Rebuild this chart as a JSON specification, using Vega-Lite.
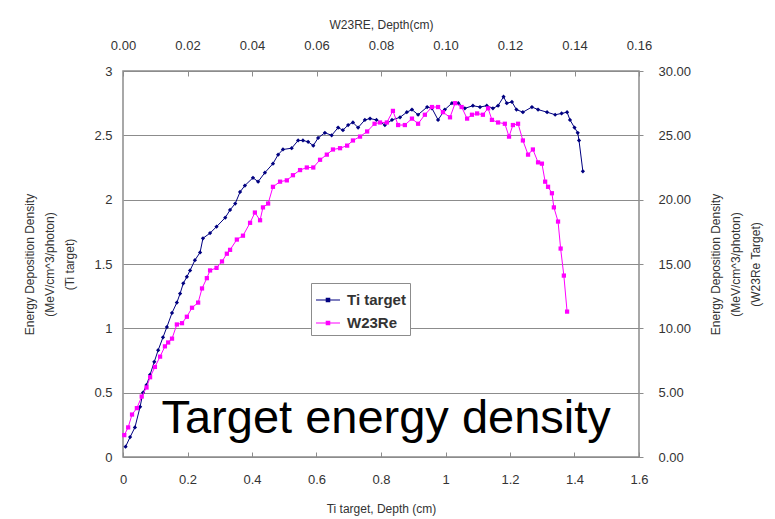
{
  "$schema": "https://vega.github.io/schema/vega-lite/v6.json",
  "width": 516,
  "height": 386,
  "autosize": "none",
  "padding": {"left": 123, "top": 71, "right": 136, "bottom": 62},
  "background": "white",
  "config": {
    "font": "Liberation Sans",
    "view": {"stroke": "#8c8c8c", "strokeWidth": 1.5},
    "axis": {
      "labelFont": "Liberation Sans",
      "labelFontSize": 13,
      "labelColor": "#333333",
      "labelFlush": false,
      "titleFont": "Liberation Sans",
      "titleFontSize": 12,
      "titleFontWeight": "normal",
      "titleColor": "#333333",
      "domain": false,
      "tickColor": "#8c8c8c",
      "gridColor": "#8c8c8c",
      "gridWidth": 1.2
    }
  },
  "datasets": {
    "ti": [
      {"depth": 0.008, "energy": 0.08}, {"depth": 0.022, "energy": 0.155}, {"depth": 0.037, "energy": 0.23},
      {"depth": 0.053, "energy": 0.39}, {"depth": 0.062, "energy": 0.5}, {"depth": 0.073, "energy": 0.56},
      {"depth": 0.084, "energy": 0.64}, {"depth": 0.097, "energy": 0.74}, {"depth": 0.109, "energy": 0.83},
      {"depth": 0.124, "energy": 0.93}, {"depth": 0.136, "energy": 1.01}, {"depth": 0.152, "energy": 1.12},
      {"depth": 0.167, "energy": 1.2}, {"depth": 0.177, "energy": 1.27}, {"depth": 0.187, "energy": 1.35},
      {"depth": 0.198, "energy": 1.4}, {"depth": 0.208, "energy": 1.45}, {"depth": 0.223, "energy": 1.53},
      {"depth": 0.239, "energy": 1.59}, {"depth": 0.248, "energy": 1.7}, {"depth": 0.27, "energy": 1.74},
      {"depth": 0.29, "energy": 1.79}, {"depth": 0.317, "energy": 1.86}, {"depth": 0.332, "energy": 1.92},
      {"depth": 0.348, "energy": 1.97}, {"depth": 0.363, "energy": 2.06}, {"depth": 0.378, "energy": 2.11},
      {"depth": 0.403, "energy": 2.17}, {"depth": 0.419, "energy": 2.14}, {"depth": 0.44, "energy": 2.21},
      {"depth": 0.465, "energy": 2.28}, {"depth": 0.481, "energy": 2.35}, {"depth": 0.496, "energy": 2.39},
      {"depth": 0.523, "energy": 2.4}, {"depth": 0.543, "energy": 2.46}, {"depth": 0.558, "energy": 2.46},
      {"depth": 0.574, "energy": 2.45}, {"depth": 0.59, "energy": 2.42}, {"depth": 0.605, "energy": 2.48},
      {"depth": 0.626, "energy": 2.52}, {"depth": 0.647, "energy": 2.5}, {"depth": 0.667, "energy": 2.56},
      {"depth": 0.682, "energy": 2.54}, {"depth": 0.698, "energy": 2.58}, {"depth": 0.713, "energy": 2.6},
      {"depth": 0.729, "energy": 2.56}, {"depth": 0.75, "energy": 2.62}, {"depth": 0.766, "energy": 2.63},
      {"depth": 0.786, "energy": 2.62}, {"depth": 0.812, "energy": 2.58}, {"depth": 0.834, "energy": 2.62},
      {"depth": 0.859, "energy": 2.64}, {"depth": 0.88, "energy": 2.68}, {"depth": 0.896, "energy": 2.7},
      {"depth": 0.915, "energy": 2.66}, {"depth": 0.943, "energy": 2.72}, {"depth": 0.958, "energy": 2.71},
      {"depth": 0.977, "energy": 2.62}, {"depth": 0.998, "energy": 2.7}, {"depth": 1.02, "energy": 2.75},
      {"depth": 1.04, "energy": 2.75}, {"depth": 1.06, "energy": 2.71}, {"depth": 1.085, "energy": 2.73},
      {"depth": 1.107, "energy": 2.72}, {"depth": 1.128, "energy": 2.73}, {"depth": 1.147, "energy": 2.71},
      {"depth": 1.163, "energy": 2.73}, {"depth": 1.18, "energy": 2.8}, {"depth": 1.19, "energy": 2.75},
      {"depth": 1.206, "energy": 2.76}, {"depth": 1.22, "energy": 2.7}, {"depth": 1.24, "energy": 2.68},
      {"depth": 1.268, "energy": 2.72}, {"depth": 1.287, "energy": 2.7}, {"depth": 1.315, "energy": 2.68},
      {"depth": 1.34, "energy": 2.66}, {"depth": 1.36, "energy": 2.67}, {"depth": 1.377, "energy": 2.68},
      {"depth": 1.386, "energy": 2.62}, {"depth": 1.4, "energy": 2.56}, {"depth": 1.41, "energy": 2.52},
      {"depth": 1.414, "energy": 2.46}, {"depth": 1.426, "energy": 2.22}
    ],
    "w": [
      {"depth": 0.0004, "energy": 1.7}, {"depth": 0.0016, "energy": 2.3}, {"depth": 0.0028, "energy": 3.3},
      {"depth": 0.0043, "energy": 3.8}, {"depth": 0.0058, "energy": 4.7}, {"depth": 0.0073, "energy": 5.4},
      {"depth": 0.0084, "energy": 6.2}, {"depth": 0.0099, "energy": 7.0}, {"depth": 0.0115, "energy": 7.8},
      {"depth": 0.013, "energy": 8.6}, {"depth": 0.014, "energy": 8.9}, {"depth": 0.0152, "energy": 9.2},
      {"depth": 0.0167, "energy": 10.3}, {"depth": 0.0183, "energy": 10.4}, {"depth": 0.0198, "energy": 10.9},
      {"depth": 0.0214, "energy": 11.6}, {"depth": 0.0233, "energy": 12.0}, {"depth": 0.0245, "energy": 13.1},
      {"depth": 0.026, "energy": 13.9}, {"depth": 0.027, "energy": 14.5}, {"depth": 0.029, "energy": 14.7},
      {"depth": 0.0307, "energy": 15.2}, {"depth": 0.0322, "energy": 15.8}, {"depth": 0.0332, "energy": 16.1},
      {"depth": 0.0353, "energy": 16.9}, {"depth": 0.0372, "energy": 17.2}, {"depth": 0.0394, "energy": 18.2},
      {"depth": 0.0409, "energy": 19.0}, {"depth": 0.0425, "energy": 18.4}, {"depth": 0.0434, "energy": 19.4},
      {"depth": 0.045, "energy": 19.7}, {"depth": 0.0465, "energy": 21.0}, {"depth": 0.0487, "energy": 21.4},
      {"depth": 0.0508, "energy": 21.5}, {"depth": 0.0527, "energy": 21.9}, {"depth": 0.0549, "energy": 22.3},
      {"depth": 0.057, "energy": 22.5}, {"depth": 0.059, "energy": 22.5}, {"depth": 0.0611, "energy": 23.1},
      {"depth": 0.0632, "energy": 23.5}, {"depth": 0.0651, "energy": 23.9}, {"depth": 0.0673, "energy": 24.0},
      {"depth": 0.0695, "energy": 24.2}, {"depth": 0.0713, "energy": 24.6}, {"depth": 0.0735, "energy": 24.9},
      {"depth": 0.0757, "energy": 25.3}, {"depth": 0.078, "energy": 25.9}, {"depth": 0.0797, "energy": 26.0},
      {"depth": 0.0818, "energy": 26.0}, {"depth": 0.0837, "energy": 26.9}, {"depth": 0.0853, "energy": 25.8},
      {"depth": 0.0874, "energy": 25.8}, {"depth": 0.0896, "energy": 26.3}, {"depth": 0.0915, "energy": 25.9},
      {"depth": 0.0936, "energy": 26.6}, {"depth": 0.0958, "energy": 27.2}, {"depth": 0.0977, "energy": 27.2},
      {"depth": 0.0992, "energy": 26.8}, {"depth": 0.1014, "energy": 26.4}, {"depth": 0.103, "energy": 27.5},
      {"depth": 0.105, "energy": 27.2}, {"depth": 0.1067, "energy": 26.3}, {"depth": 0.1082, "energy": 26.6},
      {"depth": 0.1098, "energy": 26.7}, {"depth": 0.1116, "energy": 26.6}, {"depth": 0.1132, "energy": 27.1},
      {"depth": 0.1144, "energy": 26.2}, {"depth": 0.1163, "energy": 26.0}, {"depth": 0.1184, "energy": 25.9},
      {"depth": 0.1197, "energy": 24.9}, {"depth": 0.1209, "energy": 25.8}, {"depth": 0.1225, "energy": 25.9},
      {"depth": 0.124, "energy": 24.6}, {"depth": 0.1256, "energy": 23.5}, {"depth": 0.1271, "energy": 23.9},
      {"depth": 0.1287, "energy": 22.9}, {"depth": 0.1299, "energy": 22.8}, {"depth": 0.1309, "energy": 21.4},
      {"depth": 0.1318, "energy": 21.0}, {"depth": 0.133, "energy": 20.5}, {"depth": 0.1336, "energy": 19.4},
      {"depth": 0.1349, "energy": 18.3}, {"depth": 0.1357, "energy": 16.2}, {"depth": 0.1367, "energy": 14.1},
      {"depth": 0.1377, "energy": 11.3}
    ],
    "note": [{"depth": 0.816, "energy": 0.19, "label": "Target energy density"}]
  },
  "layer": [
    {
      "encoding": {
        "x": {
          "field": "depth", "type": "quantitative",
          "scale": {"domain": [0, 1.6], "nice": false, "zero": false},
          "axis": {
            "orient": "bottom", "title": "Ti target, Depth (cm)",
            "values": [0, 0.2, 0.4, 0.6, 0.8, 1, 1.2, 1.4, 1.6],
            "format": ".2~f", "tickSize": -5, "labelPadding": 21, "titlePadding": 17, "grid": false
          }
        },
        "y": {
          "field": "energy", "type": "quantitative",
          "scale": {"domain": [0, 3], "nice": false},
          "axis": {
            "orient": "left",
            "title": ["Energy Deposition Density", "(MeV/cm^3/photon)", "(Ti target)"],
            "titleLineHeight": 20,
            "values": [0, 0.5, 1, 1.5, 2, 2.5, 3],
            "format": ".2~f", "tickSize": 0, "labelPadding": 11, "titlePadding": 17, "grid": true
          }
        },
        "color": {
          "datum": "Ti target",
          "scale": {"domain": ["Ti target", "W23Re"], "range": ["#000080", "#ff00ff"]},
          "legend": {
            "title": null, "orient": "none", "legendX": 188, "legendY": 212,
            "symbolType": "M-1,0H1M-0.14,-0.14H0.14V0.14H-0.14Z", "symbolSize": 576, "symbolStrokeWidth": 1.2,
            "labelFontSize": 15, "labelFontWeight": "bold", "labelColor": "#333333", "labelOffset": 6,
            "padding": 4, "rowPadding": 2, "strokeColor": "#8c8c8c", "fillColor": "white"
          }
        }
      },
      "layer": [
        {"data": {"name": "ti"}, "mark": {"type": "line", "strokeWidth": 1}},
        {"data": {"name": "ti"}, "mark": {"type": "point", "shape": "diamond", "filled": true, "size": 18, "opacity": 1}},
        {
          "data": {"name": "note"},
          "mark": {"type": "text", "font": "Liberation Sans", "fontSize": 47, "align": "center", "baseline": "alphabetic"},
          "encoding": {"text": {"field": "label"}, "color": {"value": "black"}}
        }
      ]
    },
    {
      "data": {"name": "w"},
      "encoding": {
        "x": {
          "field": "depth", "type": "quantitative",
          "scale": {"domain": [0, 0.16], "nice": false, "zero": false},
          "axis": {
            "orient": "top", "title": "W23RE, Depth(cm)",
            "values": [0, 0.02, 0.04, 0.06, 0.08, 0.1, 0.12, 0.14, 0.16],
            "format": ".2f", "tickSize": -5, "labelPadding": 24, "titlePadding": 8, "grid": false
          }
        },
        "y": {
          "field": "energy", "type": "quantitative",
          "scale": {"domain": [0, 30], "nice": false},
          "axis": {
            "orient": "right",
            "title": ["Energy Deposition Density", "(MeV/cm^3/photon)", "(W23Re Target)"],
            "titleAngle": 270, "titleLineHeight": 20,
            "values": [0, 5, 10, 15, 20, 25, 30],
            "format": ".2f", "tickSize": 4, "labelPadding": 15, "titlePadding": -8, "grid": false
          }
        },
        "color": {"datum": "W23Re"}
      },
      "layer": [
        {"mark": {"type": "line", "strokeWidth": 1}},
        {"mark": {"type": "point", "shape": "square", "filled": true, "size": 18, "opacity": 1}}
      ]
    }
  ],
  "resolve": {"scale": {"x": "independent", "y": "independent"}}
}
